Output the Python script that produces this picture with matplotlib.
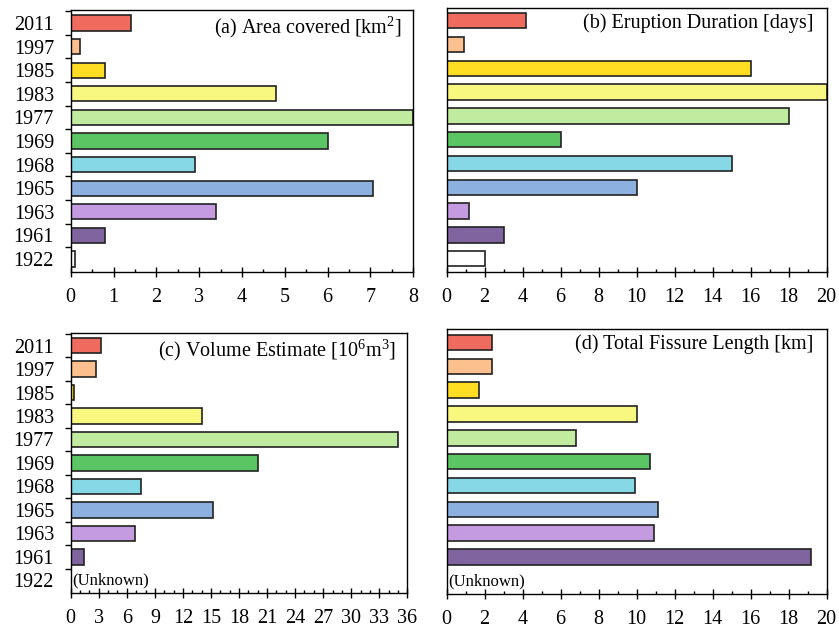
import numpy as np
import matplotlib
matplotlib.use("Agg")
import matplotlib.pyplot as plt
from matplotlib.ticker import MultipleLocator

plt.rcParams['font.family'] = ['Liberation Serif', 'DejaVu Serif']
plt.rcParams['mathtext.fontset'] = 'custom'
plt.rcParams['mathtext.rm'] = 'Liberation Serif'
plt.rcParams['mathtext.it'] = 'Liberation Serif:italic'

years = ['2011', '1997', '1985', '1983', '1977', '1969', '1968', '1965', '1963', '1961', '1922']
colors = ['#EE6B5E', '#FCC08F', '#FFDD22', '#F8F881', '#C1EC9F', '#5CC563',
          '#87D8E7', '#8CB1E1', '#C49BE0', '#7F64A0', '#FFFFFF']

area = [1.4, 0.22, 0.8, 4.8, 8.0, 6.0, 2.9, 7.05, 3.4, 0.8, 0.1]
duration = [4.2, 0.9, 16, 20, 18, 6, 15, 10, 1.2, 3, 2]
volume = [3.2, 2.7, 0.3, 14.0, 35.0, 20.0, 7.5, 15.2, 6.9, 1.4, np.nan]
fissure = [2.4, 2.4, 1.7, 10.0, 6.8, 10.7, 9.9, 11.1, 10.9, 19.2, np.nan]

fig = plt.figure(figsize=(8.39, 6.29), dpi=100)

panels = [
    # rect, values, title, xmax, major, minor, show years
    ([0.0843, 0.5676, 0.4083, 0.4165], area, r'(a) Area covered [km$^\mathrm{2}$]', 8, 1, 0.5, True),
    ([0.5324, 0.5680, 0.4529, 0.4200], duration, '(b) Eruption Duration [days]', 20, 2, 1, False),
    ([0.0843, 0.0568, 0.4012, 0.4143], volume, r'(c) Volume Estimate [10$^\mathrm{6}$m$^\mathrm{3}$]', 36, 3, 1, True),
    ([0.5324, 0.0556, 0.4529, 0.4208], fissure, '(d) Total Fissure Length [km]', 20, 2, 1, False),
]

n = len(years)
pos = np.arange(n)

for rect, vals, title, xmax, major, minor, show_years in panels:
    ax = fig.add_axes(rect)
    ax.barh(pos, vals, height=0.65, color=colors, edgecolor='#222222', linewidth=1.2)
    ax.set_xlim(0, xmax)
    ax.set_ylim(n - 0.45, -0.55)
    ax.xaxis.set_major_locator(MultipleLocator(major))
    ax.xaxis.set_minor_locator(MultipleLocator(minor))
    ax.tick_params(axis='x', which='major', direction='inout', length=7, width=1, labelsize=14.5, pad=8)
    ax.tick_params(axis='x', which='minor', direction='in', length=2.5, width=1)
    if show_years:
        ax.set_yticks(pos)
        ax.set_yticklabels(years)
        ax.set_yticks(np.arange(n) - 0.5, minor=True)
        ax.tick_params(axis='y', which='major', length=0, labelsize=14.5, pad=12)
        ax.tick_params(axis='y', which='minor', direction='out', length=4, width=1)
    else:
        ax.set_yticks([])
    for s in ax.spines.values():
        s.set_linewidth(1.0)
    ax.text(0.965, 0.98, title, transform=ax.transAxes, ha='right', va='top', fontsize=14.5)
    if np.isnan(vals[-1]):
        ax.text(xmax * 0.005, pos[-1], '(Unknown)', ha='left', va='center', fontsize=12)

fig.savefig('out.png', dpi=100)
